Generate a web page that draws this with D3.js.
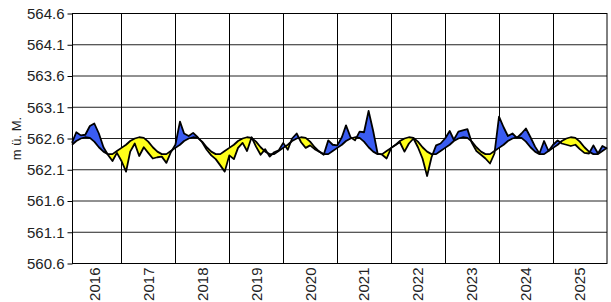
<!DOCTYPE html>
<html>
<head>
<meta charset="utf-8">
<script src="https://cdn.jsdelivr.net/npm/d3@7"></script>
<style>
  body { margin: 0; background: #fff; }
  text { font-family: "Liberation Sans", Arial, sans-serif; }
</style>
</head>
<body>
<script>
var width = 611,
    height = 302;

// tick labels
var yearLabels = [2016, 2017, 2018, 2019, 2020, 2021, 2022, 2023, 2024, 2025];
var yTicks = [560.6, 561.1, 561.6, 562.1, 562.6, 563.1, 563.6, 564.1, 564.6];

// long-term mean level per calendar month (Jan..Dec)
var monthlyMean = [562.45, 562.50, 562.56, 562.60, 562.62, 562.61, 562.55, 562.46, 562.39, 562.35, 562.35, 562.40];

// monthly water level, Feb 2016 .. Jan 2026
var level = [
          562.53, 562.70, 562.65, 562.66, 562.80, 562.84, 562.68, 562.46, 562.34, 562.24, 562.37, // 2016
  562.24, 562.07, 562.39, 562.52, 562.32, 562.46, 562.37, 562.28, 562.30, 562.31, 562.21, 562.38, // 2017
  562.50, 562.87, 562.68, 562.64, 562.69, 562.62, 562.54, 562.42, 562.33, 562.27, 562.17, 562.07, // 2018
  562.33, 562.27, 562.45, 562.53, 562.40, 562.62, 562.47, 562.34, 562.43, 562.31, 562.38, 562.41, // 2019
  562.53, 562.42, 562.60, 562.68, 562.54, 562.45, 562.49, 562.43, 562.39, 562.34, 562.57, 562.50, // 2020
  562.49, 562.62, 562.81, 562.62, 562.57, 562.71, 562.70, 563.04, 562.72, 562.36, 562.34, 562.28, // 2021
  562.45, 562.50, 562.54, 562.39, 562.52, 562.60, 562.46, 562.28, 562.00, 562.30, 562.49, 562.52, // 2022
  562.60, 562.72, 562.58, 562.71, 562.73, 562.75, 562.53, 562.40, 562.34, 562.28, 562.20, 562.36, // 2023
  562.95, 562.78, 562.64, 562.68, 562.61, 562.68, 562.76, 562.62, 562.47, 562.36, 562.56, 562.40, // 2024
  562.50, 562.57, 562.52, 562.50, 562.48, 562.50, 562.43, 562.37, 562.36, 562.49, 562.36, 562.48, // 2025
  562.44                                                                                          // 2026
];

var plotLeft = 72, plotRight = 607, plotTop = 13.5, plotBottom = 263.5;

var start = new Date(2016, 1, 1);
var data = level.map(function(v, i) {
  var date = d3.timeMonth.offset(start, i);
  return { date: date, level: v, mean: monthlyMean[date.getMonth()] };
});

var x = d3.scaleTime()
    .domain([start, new Date(2026, 0, 1)])
    .range([plotLeft, plotRight]);
var y = d3.scaleLinear()
    .domain([560.6, 564.6])
    .range([plotBottom, plotTop]);

var svg = d3.select("body").append("svg")
    .attr("width", width)
    .attr("height", height);

// grid
svg.append("g")
  .selectAll("line")
  .data(yTicks)
  .enter().append("line")
    .attr("x1", plotLeft).attr("x2", plotRight)
    .attr("y1", function(d) { return y(d); })
    .attr("y2", function(d) { return y(d); })
    .attr("stroke", "#222")
    .attr("stroke-width", 1);

var yearStarts = yearLabels.slice(1).map(function(yr) { return new Date(yr, 0, 1); });
svg.append("g")
  .selectAll("line")
  .data(yearStarts)
  .enter().append("line")
    .attr("x1", function(d) { return Math.round(x(d)) + 0.5; })
    .attr("x2", function(d) { return Math.round(x(d)) + 0.5; })
    .attr("y1", plotTop).attr("y2", plotBottom)
    .attr("stroke", "#000")
    .attr("stroke-width", 1);

// clip regions above / below the mean line
var defs = svg.append("defs");
defs.append("clipPath").attr("id", "above")
  .append("path")
    .attr("d", d3.area()
      .x(function(d) { return x(d.date); })
      .y0(0)
      .y1(function(d) { return y(d.mean); })(data));
defs.append("clipPath").attr("id", "below")
  .append("path")
    .attr("d", d3.area()
      .x(function(d) { return x(d.date); })
      .y0(height)
      .y1(function(d) { return y(d.mean); })(data));

var between = d3.area()
    .x(function(d) { return x(d.date); })
    .y0(function(d) { return y(d.mean); })
    .y1(function(d) { return y(d.level); });

svg.append("path")
    .datum(data)
    .attr("clip-path", "url(#above)")
    .attr("fill", "#3a5cf2")
    .attr("d", between);
svg.append("path")
    .datum(data)
    .attr("clip-path", "url(#below)")
    .attr("fill", "#ffff1a")
    .attr("d", between);

var meanLine = d3.line()
    .x(function(d) { return x(d.date); })
    .y(function(d) { return y(d.mean); });
var levelLine = d3.line()
    .x(function(d) { return x(d.date); })
    .y(function(d) { return y(d.level); });

svg.append("path").datum(data)
    .attr("fill", "none").attr("stroke", "#000").attr("stroke-width", 1.8)
    .attr("stroke-linejoin", "round")
    .attr("d", meanLine);
svg.append("path").datum(data)
    .attr("fill", "none").attr("stroke", "#000").attr("stroke-width", 1.8)
    .attr("stroke-linejoin", "round")
    .attr("d", levelLine);

// frame
svg.append("rect")
    .attr("x", plotLeft + 0.5).attr("y", plotTop)
    .attr("width", plotRight - plotLeft - 0.5).attr("height", plotBottom - plotTop)
    .attr("fill", "none").attr("stroke", "#000");

// y axis
var yAxis = svg.append("g")
    .attr("transform", "translate(" + (plotLeft + 0.5) + ",0)")
    .call(d3.axisLeft(y).tickValues(yTicks).tickFormat(d3.format(".1f")).tickSize(5).tickPadding(3));
yAxis.select(".domain").remove();
yAxis.selectAll("text")
    .attr("font-size", 15)
    .attr("fill", "#222")
    .style("font-family", "'Liberation Sans', Arial, sans-serif");

svg.append("text")
    .attr("transform", "translate(16," + ((plotTop + plotBottom) / 2) + ") rotate(-90)")
    .attr("text-anchor", "middle")
    .attr("dy", "0.35em")
    .attr("font-size", 13)
    .attr("fill", "#222")
    .text("m ü. M.");

// year labels, centred in each year
svg.append("g")
  .selectAll("text")
  .data(yearLabels)
  .enter().append("text")
    .attr("transform", function(d) {
      var cx = (x(new Date(d, 0, 1)) + x(new Date(d + 1, 0, 1))) / 2;
      return "translate(" + cx + "," + (plotBottom + 4) + ") rotate(-90)";
    })
    .attr("text-anchor", "end")
    .attr("dy", "0.35em")
    .attr("font-size", 15)
    .attr("fill", "#222")
    .text(function(d) { return d; });
</script>
</body>
</html>
